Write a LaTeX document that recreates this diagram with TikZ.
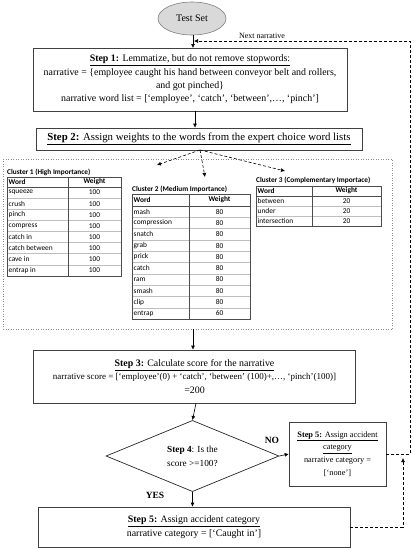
\documentclass[tikz,border=0pt]{standalone}
\usepackage{fontspec}
\setmainfont{Liberation Serif}
\newfontfamily\tabfont{Carlito}
\usetikzlibrary{arrows.meta,positioning,shapes.geometric}

\begin{document}
\begin{tikzpicture}[x=1pt, y=-1pt,
  box/.style={draw=black!75, line width=0.6pt, align=center, inner sep=2pt, font=\fontsize{9.9}{13.3}\selectfont},
  smallbox/.style={box, font=\fontsize{8.3}{12.8}\selectfont},
  startnode/.style={ellipse, draw=black!50, fill=black!15, line width=0.6pt, minimum width=68pt, minimum height=33pt, font=\fontsize{10}{12}\selectfont},
  decision/.style={diamond, draw=black!85, line width=0.7pt, minimum width=173pt, minimum height=68pt, inner sep=0pt, align=center, font=\fontsize{9.3}{14}\selectfont},
  frame/.style={draw=black!45, dotted, line width=0.5pt},
  arrow/.style={-{Latex[length=4pt,width=4pt]}, line width=0.6pt},
  dasharrow/.style={arrow, dash pattern=on 3pt off 2pt},
  ctitle/.style={font=\tabfont\bfseries\fontsize{7.3}{8}\selectfont, inner sep=0pt, anchor=west},
  cell/.style={font=\tabfont\fontsize{7.4}{8}\selectfont, inner sep=0pt},
  headcell/.style={font=\tabfont\bfseries\fontsize{7.4}{8}\selectfont, inner sep=0pt},
  tabline/.style={draw=black!70, line width=0.6pt},
  rowline/.style={draw=black!25, line width=0.4pt},
  lbl/.style={font=\bfseries\fontsize{9.5}{10}\selectfont, inner sep=0pt}
]
\useasboundingbox (0,0) rectangle (414,550);

% main flow
\node[startnode] (test) at (192,18.5) {Test Set};
\node[box, minimum width=314pt, minimum height=63pt] (step1) at (190,79.5) {\underline{\textbf{Step 1:} Lemmatize, but do not remove stopwords:}\\
  narrative = \{employee caught his hand between conveyor belt and rollers,\\
  and got pinched\}\\
  narrative word list = [`employee', `catch', `between',…, `pinch']};
\node[box, minimum width=326pt, minimum height=22pt, font=\fontsize{10.8}{13}\selectfont] (step2) at (199,139) {\underline{\textbf{Step 2:} Assign weights to the words from the expert choice word lists}};
\node[frame, minimum width=389pt, minimum height=170pt] (clusters) at (197.5,244) {};
\node[box, minimum width=322pt, minimum height=53pt] (step3) at (194.5,376.5) {\underline{\textbf{Step 3:} Calculate score for the narrative}\\
  {\fontsize{9}{13.3}\selectfont narrative score = [`employee'(0) + `catch', `between' (100)+,…, `pinch'(100)]}\\
  =200};
\node[decision] (step4) at (192.5,456) {\textbf{Step 4}: Is the\\score >=100?};
\node[smallbox, minimum width=97pt, minimum height=64pt] (none) at (337.5,454) {\underline{\textbf{Step 5:} Assign accident}\\
  \underline{category}\\
  narrative category =\\
  {}[`none']};
\node[box, minimum width=312pt, minimum height=40pt] (step5) at (194,527) {\underline{\textbf{Step 5:} Assign accident category}\\
  narrative category = [`Caught in']};

\node[lbl] (nolbl) at (272,440) {NO};
\node[lbl] (yeslbl) at (155,495) {YES};

% cluster 1
\node[ctitle] (c1title) at (7,172) {Cluster 1 (High Importance)};
\foreach \i in {1,...,7}
  \draw[rowline] (7,{187+11.1*\i}) -- (121,{187+11.1*\i});
\draw[tabline] (7,177) rectangle (121,276);
\draw[tabline] (7,187) -- (121,187) (68,177) -- (68,276);
\node[headcell, anchor=west] (c1word) at (8.5,182) {Word};
\node[headcell] (c1weight) at (94.5,182) {Weight};
\foreach \w/\v [count=\i] in {squeeze/100, crush/100, pinch/100, compress/100, catch in/100, catch between/100, cave in/100, entrap in/100} {
  \node[cell, anchor=west] (c1w\i) at (8.5,{187+11.1*\i-5.55}) {\w};
  \node[cell] (c1v\i) at (94.5,{187+11.1*\i-5.55}) {\v};
}

% cluster 2
\node[ctitle] (c2title) at (132,189) {Cluster 2 (Medium Importance)};
\foreach \i in {1,...,9}
  \draw[rowline] (132,{206+11.3*\i}) -- (250,{206+11.3*\i});
\draw[tabline] (132,194) rectangle (250,319);
\draw[tabline] (132,206) -- (250,206) (189,194) -- (189,319);
\node[headcell, anchor=west] (c2word) at (133.5,200) {Word};
\node[headcell] (c2weight) at (219.5,200) {Weight};
\foreach \w/\v [count=\i] in {mash/80, compression/80, snatch/80, grab/80, prick/80, catch/80, ram/80, smash/80, clip/80, entrap/60} {
  \node[cell, anchor=west] (c2w\i) at (133.5,{206+11.3*\i-5.65}) {\w};
  \node[cell] (c2v\i) at (219.5,{206+11.3*\i-5.65}) {\v};
}

% cluster 3
\node[ctitle] (c3title) at (256,180) {Cluster 3 (Complementary Importace)};
\foreach \i in {1,2}
  \draw[rowline] (256,{196+10*\i}) -- (381,{196+10*\i});
\draw[tabline] (256,186) rectangle (381,226);
\draw[tabline] (256,196) -- (381,196) (312,186) -- (312,226);
\node[headcell, anchor=west] (c3word) at (257.5,191) {Word};
\node[headcell] (c3weight) at (346.5,191) {Weight};
\foreach \w/\v [count=\i] in {between/20, under/20, intersection/20} {
  \node[cell, anchor=west] (c3w\i) at (257.5,{196+10*\i-5}) {\w};
  \node[cell] (c3v\i) at (346.5,{196+10*\i-5}) {\v};
}

% connectors
\coordinate (fork) at (200,150);
\coordinate (c1in) at (157,165);
\coordinate (c2in) at (205,177);
\coordinate (c3in) at (285,171);
\coordinate (nextin) at (194,41);
\coordinate (loopx) at (410,0);
\coordinate (merge) at (403,458);

\draw[arrow] (test.south -| 193,0) -- (193,48);
\draw[arrow] ([xshift=5pt]step1.south) -- ([xshift=5pt]step1.south |- step2.north);
\draw[dasharrow] (fork) -- (c1in);
\draw[dasharrow] (fork) -- (c2in);
\draw[dasharrow] (fork) -- (c3in);
\draw[arrow] (clusters.south -| 193,0) -- (step3.north -| 193,0);
\draw[arrow] ([xshift=1.5pt]step3.south) -- (step4.north);
\draw[arrow] (step4.east) -- (none.west);
\draw[arrow] (step4.south) -- (step4.south |- step5.north);
\draw[dasharrow] (none.east) -- (none.east -| loopx) -- (loopx |- nextin) -- (nextin);
\draw[dasharrow] (step5.east) -| (merge);
\node[font=\fontsize{8}{9}\selectfont, anchor=south, inner sep=1pt] (nextlbl) at (262,40) {Next narrative};
\end{tikzpicture}
\end{document}
